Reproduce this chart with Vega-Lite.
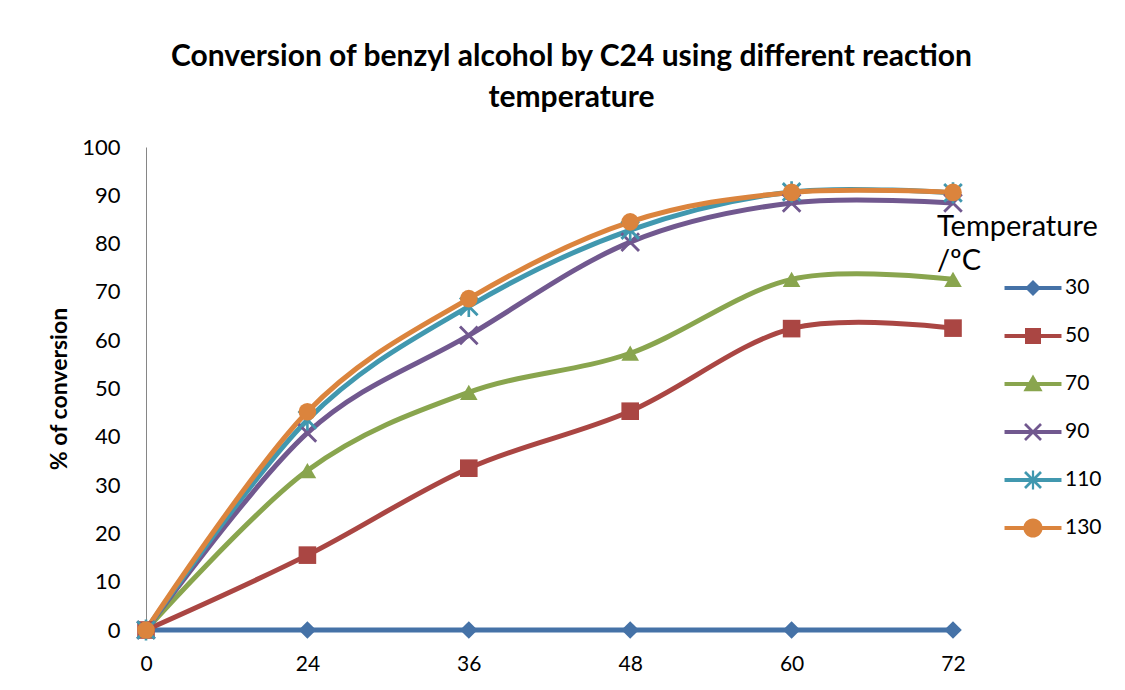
{
  "$schema": "https://vega.github.io/schema/vega-lite/v6.json",
  "width": 807,
  "height": 483,
  "autosize": {"type": "none"},
  "padding": {"left": 146, "top": 147, "right": 172, "bottom": 60},
  "background": "white",
  "config": {
    "view": {"stroke": null},
    "font": "Lato",
    "legend": {
      "padding": 0,
      "titleFontSize": 29,
      "titleFontWeight": "normal",
      "titleColor": "#000000",
      "titleLineHeight": 34,
      "titlePadding": -4,
      "labelFontSize": 21,
      "labelColor": "#000000",
      "labelOffset": 16,
      "symbolSize": 1024,
      "symbolOffset": 80,
      "symbolOpacity": 1,
      "rowPadding": 22,
      "symbolStrokeWidth": 0
    }
  },
  "title": {
    "text": ["Conversion of benzyl alcohol by C24 using different reaction", "temperature"],
    "fontSize": 30,
    "fontWeight": "bold",
    "font": "Lato",
    "color": "#000000",
    "lineHeight": 41,
    "offset": 23,
    "anchor": "middle",
    "dx": 22
  },
  "data": {
    "values": [
      {"time": 0, "T": "30", "value": 0},
      {"time": 24, "T": "30", "value": 0},
      {"time": 36, "T": "30", "value": 0},
      {"time": 48, "T": "30", "value": 0},
      {"time": 60, "T": "30", "value": 0},
      {"time": 72, "T": "30", "value": 0},
      {"time": 0, "T": "50", "value": 0},
      {"time": 24, "T": "50", "value": 15.5},
      {"time": 36, "T": "50", "value": 33.5},
      {"time": 48, "T": "50", "value": 45.3},
      {"time": 60, "T": "50", "value": 62.4},
      {"time": 72, "T": "50", "value": 62.5},
      {"time": 0, "T": "70", "value": 0},
      {"time": 24, "T": "70", "value": 33},
      {"time": 36, "T": "70", "value": 49.2},
      {"time": 48, "T": "70", "value": 57.3},
      {"time": 60, "T": "70", "value": 72.6},
      {"time": 72, "T": "70", "value": 72.6},
      {"time": 0, "T": "90", "value": 0},
      {"time": 24, "T": "90", "value": 40.8},
      {"time": 36, "T": "90", "value": 61},
      {"time": 48, "T": "90", "value": 80.3},
      {"time": 60, "T": "90", "value": 88.4},
      {"time": 72, "T": "90", "value": 88.4},
      {"time": 0, "T": "110", "value": 0},
      {"time": 24, "T": "110", "value": 43.5},
      {"time": 36, "T": "110", "value": 67},
      {"time": 48, "T": "110", "value": 82.8},
      {"time": 60, "T": "110", "value": 90.7},
      {"time": 72, "T": "110", "value": 90.5},
      {"time": 0, "T": "130", "value": 0},
      {"time": 24, "T": "130", "value": 45.2},
      {"time": 36, "T": "130", "value": 68.6},
      {"time": 48, "T": "130", "value": 84.5},
      {"time": 60, "T": "130", "value": 90.6},
      {"time": 72, "T": "130", "value": 90.6}
    ]
  },
  "encoding": {
    "x": {
      "field": "time",
      "type": "ordinal",
      "scale": {"type": "point", "padding": 0},
      "axis": {
        "title": null,
        "labelAngle": 0,
        "labelFontSize": 21,
        "labelColor": "#000000",
        "labelPadding": 23,
        "ticks": false,
        "grid": false,
        "domainColor": "#868686"
      }
    },
    "y": {
      "field": "value",
      "type": "quantitative",
      "scale": {"domain": [0, 100]},
      "axis": {
        "title": "% of conversion",
        "titleFontSize": 23,
        "titleFontWeight": "bold",
        "titleColor": "#000000",
        "titlePadding": 10,
        "labelFontSize": 22,
        "labelColor": "#000000",
        "labelPadding": 26,
        "ticks": false,
        "grid": false,
        "domainColor": "#868686",
        "values": [0, 10, 20, 30, 40, 50, 60, 70, 80, 90, 100]
      }
    }
  },
  "layer": [
    {
      "mark": {"type": "line", "interpolate": "cardinal", "strokeWidth": 5},
      "encoding": {
        "color": {
          "field": "T",
          "type": "nominal",
          "scale": {
            "domain": ["30", "50", "70", "90", "110", "130"],
            "range": ["#4572A7", "#AA4643", "#89A54E", "#71588F", "#4198AF", "#DB843D"]
          },
          "legend": null
        }
      }
    },
    {
      "mark": {"type": "point", "filled": true, "opacity": 1, "size": 310},
      "encoding": {
        "color": {"field": "T", "type": "nominal", "legend": null},
        "shape": {
          "field": "T",
          "type": "nominal",
          "scale": {
            "domain": ["30", "50", "70", "90", "110", "130"],
            "range": [
              "diamond",
              "square",
              "triangle-up",
              "M-0.885,-1.115L1.115,0.885L0.885,1.115L-1.115,-0.885Z M-1.115,0.885L0.885,-1.115L1.115,-0.885L-0.885,1.115Z",
              "M-0.885,-1.115L1.115,0.885L0.885,1.115L-1.115,-0.885Z M-1.115,0.885L0.885,-1.115L1.115,-0.885L-0.885,1.115Z M-0.15,-1.2H0.15V1.2H-0.15Z",
              "circle"
            ]
          },
          "legend": null
        }
      }
    },
    {
      "mark": {"type": "point", "filled": true, "opacity": 0, "size": 1024},
      "encoding": {
        "color": {
          "field": "T",
          "type": "nominal",
          "legend": {"title": ["Temperature", "/ºC"], "orient": "none", "legendX": 791, "legendY": 66}
        },
        "shape": {
          "field": "T",
          "type": "nominal",
          "scale": {
            "domain": ["30", "50", "70", "90", "110", "130"],
            "range": [
              "M-1.78,-0.13H1.78V0.13H-1.78Z M0,-0.5L0.5,0L0,0.5L-0.5,0Z",
              "M-1.78,-0.13H1.78V0.13H-1.78Z M-0.5,-0.5H0.5V0.5H-0.5Z",
              "M-1.78,-0.13H1.78V0.13H-1.78Z M0,-0.6L0.6,0.45H-0.6Z",
              "M-1.78,-0.13H1.78V0.13H-1.78Z M-0.44,-0.56L0.56,0.44L0.44,0.56L-0.56,-0.44Z M-0.56,0.44L0.44,-0.56L0.56,-0.44L-0.44,0.56Z",
              "M-1.78,-0.13H1.78V0.13H-1.78Z M-0.44,-0.56L0.56,0.44L0.44,0.56L-0.56,-0.44Z M-0.56,0.44L0.44,-0.56L0.56,-0.44L-0.44,0.56Z M-0.07,-0.6H0.07V0.6H-0.07Z",
              "M-1.78,-0.13H1.78V0.13H-1.78Z M0.6,0A0.6,0.6 0 1,1 -0.6,0A0.6,0.6 0 1,1 0.6,0Z"
            ]
          },
          "legend": {"title": ["Temperature", "/ºC"], "orient": "none", "legendX": 791, "legendY": 66}
        }
      }
    }
  ],
  "resolve": {
    "scale": {"shape": "independent"},
    "legend": {"color": "independent", "shape": "independent"}
  }
}
